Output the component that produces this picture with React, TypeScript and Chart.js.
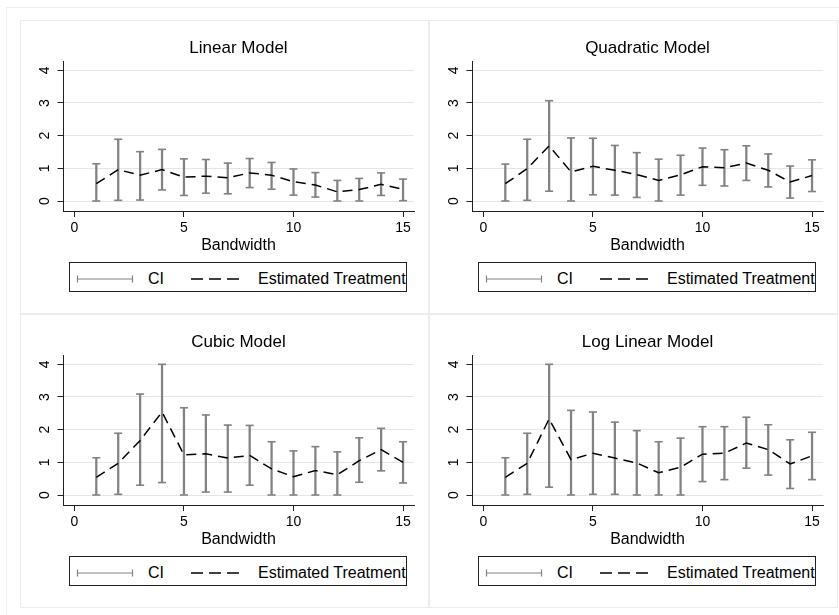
import React, { useEffect, useRef } from "react";
import { Chart, registerables } from "chart.js";

Chart.register(...registerables);

// ---------- data ----------
const bandwidth = [1, 2, 3, 4, 5, 6, 7, 8, 9, 10, 11, 12, 13, 14, 15];
const xTickValues = [0, 5, 10, 15];
const yTickValues = [0, 1, 2, 3, 4];

const linearEst = [0.53, 0.96, 0.79, 0.96, 0.73, 0.76, 0.71, 0.86, 0.79, 0.59, 0.49, 0.28, 0.35, 0.51, 0.36];
const linearLo = [0.0, 0.02, 0.03, 0.34, 0.17, 0.24, 0.22, 0.41, 0.36, 0.18, 0.12, 0.0, 0.0, 0.17, 0.01];
const linearHi = [1.14, 1.89, 1.51, 1.58, 1.29, 1.27, 1.16, 1.3, 1.18, 0.98, 0.87, 0.63, 0.69, 0.86, 0.67];

const quadEst = [0.53, 0.99, 1.69, 0.89, 1.06, 0.94, 0.81, 0.63, 0.8, 1.05, 1.02, 1.16, 0.94, 0.58, 0.78];
const quadLo = [0.0, 0.02, 0.3, 0.0, 0.19, 0.18, 0.11, 0.0, 0.18, 0.48, 0.46, 0.63, 0.43, 0.09, 0.29];
const quadHi = [1.13, 1.89, 3.07, 1.93, 1.92, 1.7, 1.48, 1.28, 1.4, 1.62, 1.57, 1.69, 1.44, 1.07, 1.26];

const cubicEst = [0.54, 0.97, 1.67, 2.54, 1.23, 1.26, 1.13, 1.21, 0.8, 0.56, 0.75, 0.62, 1.05, 1.39, 1.0];
const cubicLo = [0.0, 0.02, 0.3, 0.38, 0.0, 0.09, 0.09, 0.3, 0.0, 0.0, 0.0, 0.0, 0.39, 0.74, 0.37];
const cubicHi = [1.14, 1.89, 3.09, 4.0, 2.67, 2.45, 2.14, 2.13, 1.63, 1.35, 1.48, 1.32, 1.75, 2.04, 1.63];

const logEst = [0.54, 0.97, 2.33, 1.08, 1.28, 1.13, 0.98, 0.68, 0.85, 1.25, 1.28, 1.59, 1.39, 0.95, 1.2];
const logLo = [0.0, 0.02, 0.24, 0.0, 0.02, 0.02, 0.0, 0.0, 0.0, 0.41, 0.47, 0.82, 0.61, 0.2, 0.47];
const logHi = [1.14, 1.89, 4.0, 2.59, 2.54, 2.23, 1.97, 1.63, 1.74, 2.09, 2.09, 2.38, 2.15, 1.69, 1.92];

const titles = ["Linear Model", "Quadratic Model", "Cubic Model", "Log Linear Model"];
const xAxisTitle = "Bandwidth";
const legendCI = "CI";
const legendEst = "Estimated Treatment";

// ---------- style ----------
const FONT = "'Liberation Sans', Arial, Helvetica, sans-serif";
const CI_COLOR = "#828282";
const AXIS_COLOR = "#222222";
const GRID_COLOR = "#e6e6e6";
const FRAME_COLOR = "#ececec";
const PANEL_W = 409;
const PANEL_H = 294;

Chart.defaults.font.family = FONT;
Chart.defaults.color = "#000";

// Draws the y-axis tick labels vertically (Stata style), at the scale's own tick positions.
const verticalYTickLabels = {
  id: "verticalYTickLabels",
  afterDraw(chart: any) {
    const scale = chart.scales.y;
    if (!scale) return;
    const ctx = chart.ctx;
    ctx.save();
    ctx.font = `14px ${FONT}`;
    ctx.fillStyle = "#000";
    ctx.textAlign = "center";
    ctx.textBaseline = "middle";
    const x = scale.right - 18;
    scale.ticks.forEach((t: any) => {
      const py = scale.getPixelForValue(t.value);
      ctx.save();
      ctx.translate(x, py);
      ctx.rotate(-Math.PI / 2);
      ctx.fillText(String(t.value), 0, 0);
      ctx.restore();
    });
    ctx.restore();
  },
};

type PanelProps = {
  title: string;
  est: number[];
  lo: number[];
  hi: number[];
  left: number;
  top: number;
};

function Panel({ title, est, lo, hi, left, top }: PanelProps) {
  const ref = useRef<HTMLCanvasElement>(null);

  useEffect(() => {
    const canvas = ref.current;
    if (!canvas) return;
    const caps = [
      ...bandwidth.map((b, i) => ({ x: b, y: lo[i] })),
      ...bandwidth.map((b, i) => ({ x: b, y: hi[i] })),
    ];
    const chart = new Chart(canvas, {
      type: "bar",
      plugins: [verticalYTickLabels],
      data: {
        datasets: [
          {
            type: "line",
            label: legendEst,
            data: bandwidth.map((b, i) => ({ x: b, y: est[i] })),
            borderColor: "#000",
            borderWidth: 1.5,
            borderDash: [10, 6],
            pointRadius: 0,
            fill: false,
            tension: 0,
            order: 0,
          } as any,
          {
            type: "bar",
            label: legendCI,
            data: bandwidth.map((b, i) => ({ x: b, y: [lo[i], hi[i]] })),
            backgroundColor: CI_COLOR,
            borderWidth: 0,
            barThickness: 1.6,
            order: 1,
          } as any,
          {
            type: "scatter",
            label: "caps",
            data: caps,
            pointStyle: "line",
            pointRadius: 4,
            borderColor: CI_COLOR,
            backgroundColor: CI_COLOR,
            borderWidth: 1.6,
            order: 2,
          } as any,
        ],
      },
      options: {
        animation: false,
        responsive: false,
        events: [],
        layout: { padding: { left: 0, right: 15, top: 0, bottom: 59.1 } },
        plugins: {
          legend: { display: false },
          tooltip: { enabled: false },
          title: {
            display: true,
            fullSize: false,
            text: title,
            color: "#000",
            font: { size: 17, weight: "normal", family: FONT },
            padding: { top: 17.8, bottom: 2.8 },
          },
        },
        scales: {
          x: {
            type: "linear",
            min: -0.52,
            max: 15.5,
            offset: false,
            grid: {
              display: true,
              offset: false,
              drawOnChartArea: false,
              drawTicks: true,
              tickLength: 6,
              tickColor: AXIS_COLOR,
              tickWidth: 1,
            },
            border: { display: true, color: AXIS_COLOR, width: 1 },
            afterBuildTicks: (s: any) => {
              s.ticks = xTickValues.map((v) => ({ value: v }));
            },
            afterFit: (s: any) => {
              s.height = 43.9;
            },
            ticks: {
              color: "#000",
              font: { size: 14 },
              padding: 2.6,
              minRotation: 0,
              maxRotation: 0,
              autoSkip: false,
              callback: (v: any) => String(v),
            },
            title: {
              display: true,
              text: xAxisTitle,
              color: "#000",
              font: { size: 16 },
              padding: { top: 0, bottom: 0 },
            },
          },
          y: {
            type: "linear",
            min: -0.306,
            max: 4.285,
            grid: {
              color: GRID_COLOR,
              lineWidth: 1,
              drawTicks: true,
              tickLength: 5.5,
              tickColor: AXIS_COLOR,
              tickWidth: 1,
            },
            border: { display: true, color: AXIS_COLOR, width: 1 },
            afterBuildTicks: (s: any) => {
              s.ticks = yTickValues.map((v) => ({ value: v }));
            },
            afterFit: (s: any) => {
              s.width = 43;
            },
            ticks: {
              display: false,
              autoSkip: false,
            },
          },
        },
      } as any,
    });
    return () => chart.destroy();
  }, [title, est, lo, hi]);

  return (
    <div style={{ position: "absolute", left, top, width: PANEL_W, height: PANEL_H }}>
      <div
        style={{
          position: "absolute",
          left: 0,
          top: 0,
          width: PANEL_W,
          height: PANEL_H,
          boxSizing: "border-box",
          border: `1px solid ${FRAME_COLOR}`,
        }}
      />
      <canvas
        ref={ref}
        width={PANEL_W}
        height={PANEL_H}
        style={{ position: "absolute", left: 0, top: 0, width: PANEL_W, height: PANEL_H, display: "block" }}
      />
      <div
        style={{
          position: "absolute",
          left: 49,
          top: 242,
          width: 338,
          height: 30,
          boxSizing: "border-box",
          border: `1px solid ${AXIS_COLOR}`,
          fontFamily: FONT,
          fontSize: 16,
          color: "#000",
          background: "#fff",
        }}
      >
        <svg width={336} height={28} style={{ position: "absolute", left: 0, top: 0 }}>
          <line x1={7} y1={16} x2={63} y2={16} stroke={CI_COLOR} strokeWidth={1} />
          <line x1={7.5} y1={12.5} x2={7.5} y2={19.5} stroke={CI_COLOR} strokeWidth={1.2} />
          <line x1={62.5} y1={12.5} x2={62.5} y2={19.5} stroke={CI_COLOR} strokeWidth={1.2} />
          <line x1={121} y1={16} x2={170} y2={16} stroke="#000" strokeWidth={1.5} strokeDasharray="12 6" />
        </svg>
        <span style={{ position: "absolute", left: 78, top: 7, lineHeight: "18px", whiteSpace: "nowrap" }}>
          {legendCI}
        </span>
        <span style={{ position: "absolute", left: 188, top: 7, lineHeight: "18px", whiteSpace: "nowrap" }}>
          {legendEst}
        </span>
      </div>
    </div>
  );
}

export default function App() {
  useEffect(() => {
    document.body.style.overflow = "hidden";
  }, []);
  return (
    <div>
      <div
        style={{
          position: "absolute",
          left: 6,
          top: 7,
          width: 833,
          height: 608,
          borderLeft: "1px solid #eeeeee",
          borderTop: "1px solid #eeeeee",
          boxSizing: "border-box",
        }}
      />
      <Panel title={titles[0]} est={linearEst} lo={linearLo} hi={linearHi} left={20} top={20} />
      <Panel title={titles[1]} est={quadEst} lo={quadLo} hi={quadHi} left={429} top={20} />
      <Panel title={titles[2]} est={cubicEst} lo={cubicLo} hi={cubicHi} left={20} top={314} />
      <Panel title={titles[3]} est={logEst} lo={logLo} hi={logHi} left={429} top={314} />
    </div>
  );
}
